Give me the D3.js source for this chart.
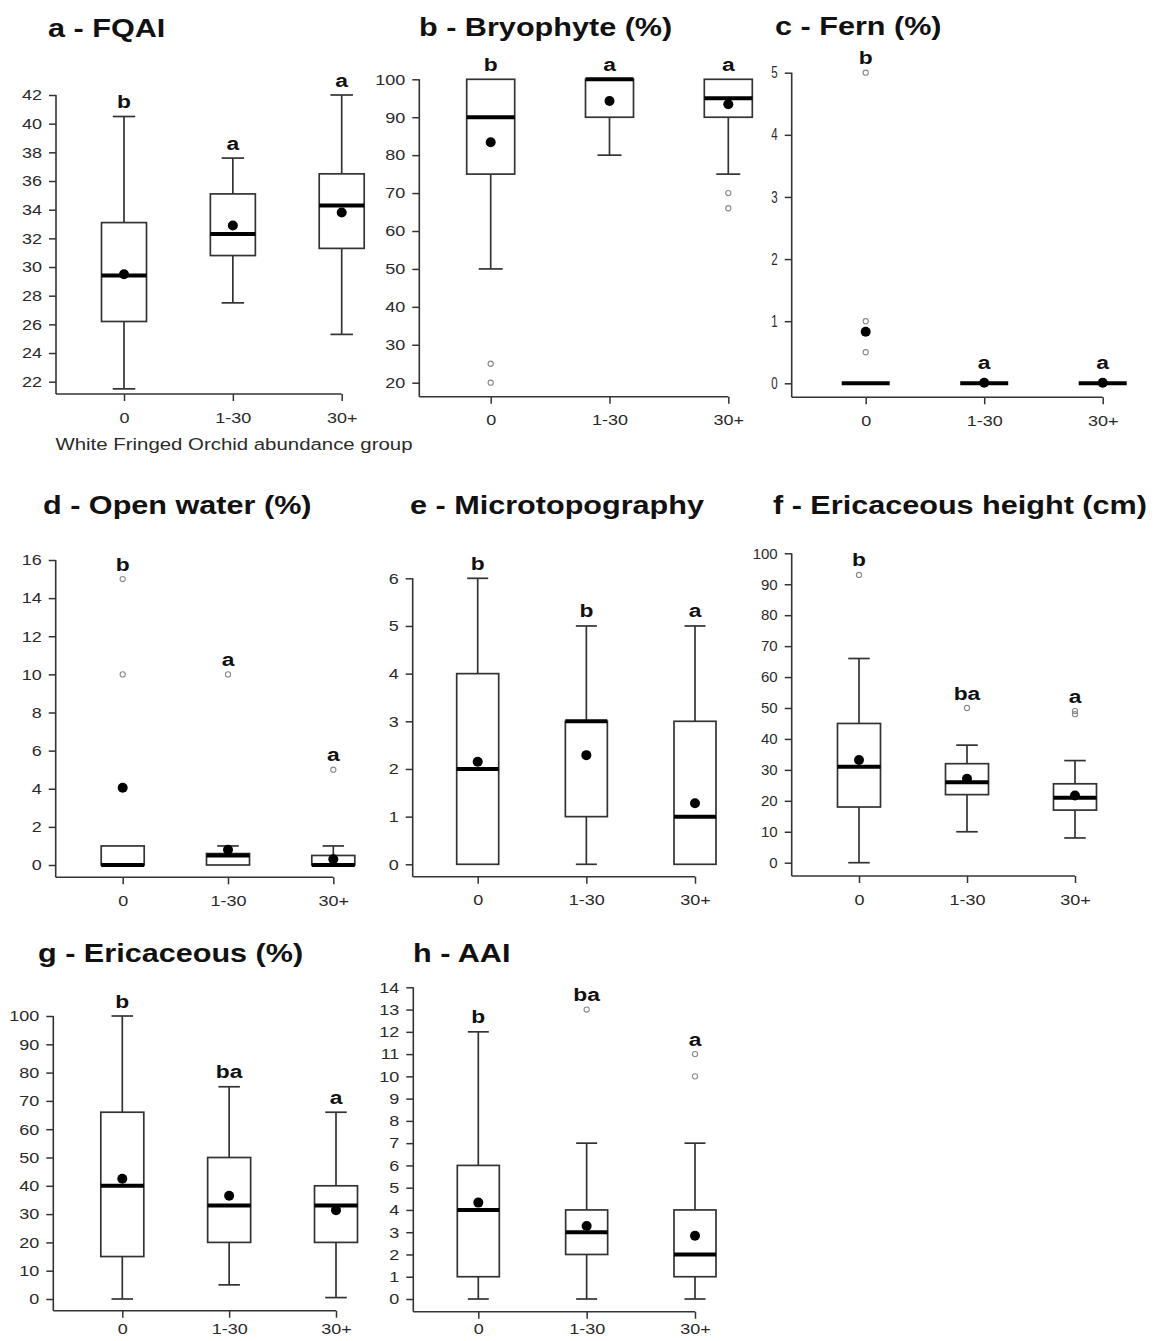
<!DOCTYPE html>
<html>
<head>
<meta charset="utf-8">
<script src="https://cdn.jsdelivr.net/npm/d3@7"></script>
<style>
  html, body { margin: 0; padding: 0; background: #fff; }
  svg { display: block; font-family: "Liberation Sans", Arial, Helvetica, sans-serif; }
</style>
</head>
<body>
<svg id="chart" width="1155" height="1341"></svg>
<script>
// ---------------- DATA ----------------
const groups = ["0", "1-30", "30+"];

// box stats per group: [lower whisker, Q1, median, Q3, upper whisker]
const fqaiBox = [[21.5, 26.2, 29.4, 33.1, 40.5], [27.5, 30.8, 32.3, 35.1, 37.6], [25.3, 31.3, 34.3, 36.5, 42]];
const fqaiMean = [29.5, 32.9, 33.8];
const fqaiOutliers = [[], [], []];
const fqaiLetters = ["b", "a", "a"];
const fqaiTicks = [22, 24, 26, 28, 30, 32, 34, 36, 38, 40, 42];

const bryoBox = [[50, 75, 90, 100, 100], [80, 90, 100, 100, 100], [75, 90, 95, 100, 100]];
const bryoMean = [83.4, 94.3, 93.4];
const bryoOutliers = [[25, 20], [], [70, 66]];
const bryoLetters = ["b", "a", "a"];
const bryoTicks = [20, 30, 40, 50, 60, 70, 80, 90, 100];

const fernBox = [[0, 0, 0, 0, 0], [0, 0, 0, 0, 0], [0, 0, 0, 0, 0]];
const fernMean = [0.83, 0.01, 0.01];
const fernOutliers = [[5, 1, 0.5], [], []];
const fernLetters = ["b", "a", "a"];
const fernTicks = [0, 1, 2, 3, 4, 5];

const waterBox = [[0, 0, 0, 1, 1], [0, 0, 0.5, 0.6, 1], [0, 0, 0, 0.5, 1]];
const waterMean = [4.05, 0.8, 0.3];
const waterOutliers = [[15, 10], [10], [5]];
const waterLetters = ["b", "a", "a"];
const waterTicks = [0, 2, 4, 6, 8, 10, 12, 14, 16];

const microBox = [[0, 0, 2, 4, 6], [0, 1, 3, 3, 5], [0, 0, 1, 3, 5]];
const microMean = [2.15, 2.29, 1.28];
const microOutliers = [[], [], []];
const microLetters = ["b", "b", "a"];
const microTicks = [0, 1, 2, 3, 4, 5, 6];

const heightBox = [[0, 18, 31, 45, 66], [10, 22, 26, 32, 38], [8, 17, 21, 25.5, 33]];
const heightMean = [33.2, 27.1, 21.7];
const heightOutliers = [[93], [50], [49, 48]];
const heightLetters = ["b", "ba", "a"];
const heightTicks = [0, 10, 20, 30, 40, 50, 60, 70, 80, 90, 100];

const ericBox = [[0, 15, 40, 66, 100], [5, 20, 33, 50, 75], [0.5, 20, 33, 40, 66]];
const ericMean = [42.5, 36.5, 31.4];
const ericOutliers = [[], [], []];
const ericLetters = ["b", "ba", "a"];
const ericTicks = [0, 10, 20, 30, 40, 50, 60, 70, 80, 90, 100];

const aaiBox = [[0, 1, 4, 6, 12], [0, 2, 3, 4, 7], [0, 1, 2, 4, 7]];
const aaiMean = [4.33, 3.28, 2.84];
const aaiOutliers = [[], [13], [11, 10]];
const aaiLetters = ["b", "ba", "a"];
const aaiTicks = [0, 1, 2, 3, 4, 5, 6, 7, 8, 9, 10, 11, 12, 13, 14];

const titles = ["a - FQAI", "b - Bryophyte (%)", "c - Fern (%)", "d - Open water (%)",
                "e - Microtopography", "f - Ericaceous height (cm)", "g - Ericaceous (%)", "h - AAI"];
const xAxisTitle = "White Fringed Orchid abundance group";

// ---------------- LAYOUT ----------------
// ax: y-axis x, ay: x-axis y, x0/x2: first/last category, yt/yb: pixel of top/bottom tick
const layouts = [
  {ax: 56,    ay: 394,    x0: 124,   x2: 341.7,  yt: 95,    yb: 381.7,  bw: 45, tx: 48,  ty: 37,  tickSx: 1.2, pad: 11},
  {ax: 419.3, ay: 396.7,  x0: 490.7, x2: 728.3,  yt: 79.3,  yb: 382.7,  bw: 48, tx: 419, ty: 36,  tickSx: 1.2, pad: 11},
  {ax: 791.7, ay: 397.3,  x0: 865.7, x2: 1102.7, yt: 72.7,  yb: 383.3,  bw: 48, tx: 775, ty: 35,  tickSx: 0.72, tickFs: 16, pad: 11},
  {ax: 55.7,  ay: 877.3,  x0: 122.7, x2: 333.3,  yt: 560,   yb: 865,    bw: 43, tx: 43,  ty: 514, tickSx: 1.2, pad: 11},
  {ax: 412.7, ay: 876.7,  x0: 477.7, x2: 695,    yt: 578.3, yb: 864.3,  bw: 42, tx: 410, ty: 514, tickSx: 1.2, pad: 11},
  {ax: 791.7, ay: 876,    x0: 859,   x2: 1075,   yt: 553.3, yb: 862.7,  bw: 43, tx: 773, ty: 514, tickSx: 1.0, pad: 11},
  {ax: 53.3,  ay: 1310.7, x0: 122.3, x2: 336,    yt: 1016,  yb: 1299,   bw: 43, tx: 38,  ty: 962, tickSx: 1.2, pad: 6},
  {ax: 413.3, ay: 1311.7, x0: 478.3, x2: 695,    yt: 987.3, yb: 1299,   bw: 42, tx: 413, ty: 962, tickSx: 1.2, pad: 5}
];

const panels = [
  {box: fqaiBox,   mean: fqaiMean,   out: fqaiOutliers,   letters: fqaiLetters,   ticks: fqaiTicks},
  {box: bryoBox,   mean: bryoMean,   out: bryoOutliers,   letters: bryoLetters,   ticks: bryoTicks},
  {box: fernBox,   mean: fernMean,   out: fernOutliers,   letters: fernLetters,   ticks: fernTicks},
  {box: waterBox,  mean: waterMean,  out: waterOutliers,  letters: waterLetters,  ticks: waterTicks},
  {box: microBox,  mean: microMean,  out: microOutliers,  letters: microLetters,  ticks: microTicks},
  {box: heightBox, mean: heightMean, out: heightOutliers, letters: heightLetters, ticks: heightTicks},
  {box: ericBox,   mean: ericMean,   out: ericOutliers,   letters: ericLetters,   ticks: ericTicks},
  {box: aaiBox,    mean: aaiMean,    out: aaiOutliers,    letters: aaiLetters,    ticks: aaiTicks}
];

// ---------------- STYLE ----------------
const SX = 1.2;           // horizontal text stretch of the source figure
const lineCol = "#333";
const tickLen = 7;

const svg = d3.select("#chart");

panels.forEach((p, i) => {
  const L = layouts[i];
  const g = svg.append("g");
  const x = d3.scalePoint().domain(groups).range([L.x0, L.x2]);
  const y = d3.scaleLinear().domain([d3.min(p.ticks), d3.max(p.ticks)]).range([L.yb, L.yt]);

  // title
  g.append("text")
    .attr("transform", `translate(${L.tx},${L.ty}) scale(${SX},1)`)
    .attr("font-size", 25.5).attr("font-weight", "bold").attr("fill", "#111")
    .text(titles[i]);

  // y axis
  const tsx = L.tickSx;
  const yAx = g.append("g").attr("transform", `translate(${L.ax},0)`)
    .call(d3.axisLeft(y).tickValues(p.ticks).tickSize(tickLen).tickFormat(d3.format("d")));
  yAx.select(".domain").remove();
  yAx.selectAll(".tick line").attr("stroke", lineCol).attr("stroke-width", 1.5);
  yAx.selectAll(".tick text")
    .attr("font-size", L.tickFs || 15).attr("fill", "#2a2a2a")
    .attr("x", -(tickLen + 7) / tsx)
    .attr("transform", `scale(${tsx},1)`);
  yAx.attr("font-family", null);

  // x axis
  const xAx = g.append("g").attr("transform", `translate(0,${L.ay})`)
    .call(d3.axisBottom(x).tickSize(tickLen).tickPadding(L.pad));
  xAx.select(".domain").remove();
  xAx.selectAll(".tick line").attr("stroke", lineCol).attr("stroke-width", 1.5);
  xAx.selectAll(".tick text")
    .attr("font-size", 15).attr("fill", "#2a2a2a")
    .attr("transform", `scale(${SX},1)`);
  xAx.attr("font-family", null);

  // L-shaped axis lines
  g.append("line").attr("x1", L.ax).attr("x2", L.ax).attr("y1", y(d3.max(p.ticks))).attr("y2", L.ay)
    .attr("stroke", lineCol).attr("stroke-width", 1.6);
  g.append("line").attr("x1", L.ax).attr("x2", x(groups[groups.length - 1])).attr("y1", L.ay).attr("y2", L.ay)
    .attr("stroke", lineCol).attr("stroke-width", 1.6);

  // boxes
  groups.forEach((grp, k) => {
    const cx = x(grp);
    const [lo, q1, med, q3, hi] = p.box[k];
    const bw = L.bw, cap = bw / 2;
    const bg = g.append("g");
    if (hi > q3) {
      bg.append("line").attr("x1", cx).attr("x2", cx).attr("y1", y(q3)).attr("y2", y(hi))
        .attr("stroke", lineCol).attr("stroke-width", 1.7);
      bg.append("line").attr("x1", cx - cap / 2).attr("x2", cx + cap / 2).attr("y1", y(hi)).attr("y2", y(hi))
        .attr("stroke", lineCol).attr("stroke-width", 1.7);
    }
    if (lo < q1) {
      bg.append("line").attr("x1", cx).attr("x2", cx).attr("y1", y(q1)).attr("y2", y(lo))
        .attr("stroke", lineCol).attr("stroke-width", 1.7);
      bg.append("line").attr("x1", cx - cap / 2).attr("x2", cx + cap / 2).attr("y1", y(lo)).attr("y2", y(lo))
        .attr("stroke", lineCol).attr("stroke-width", 1.7);
    }
    if (q3 > q1) {
      bg.append("rect").attr("x", cx - bw / 2).attr("y", y(q3)).attr("width", bw).attr("height", y(q1) - y(q3))
        .attr("fill", "#fff").attr("stroke", lineCol).attr("stroke-width", 1.7);
    }
    bg.append("line").attr("x1", cx - bw / 2).attr("x2", cx + bw / 2).attr("y1", y(med)).attr("y2", y(med))
      .attr("stroke", "#000").attr("stroke-width", 4);
    bg.append("circle").attr("cx", cx).attr("cy", y(p.mean[k])).attr("r", 5).attr("fill", "#000");
    p.out[k].forEach(v => {
      bg.append("circle").attr("cx", cx).attr("cy", y(v)).attr("r", 2.6)
        .attr("fill", "none").attr("stroke", "#8a8a8a").attr("stroke-width", 1.1);
    });
    // significance letter
    const topVal = d3.max([hi, q3].concat(p.out[k]));
    const topY = Math.min(y(topVal), y(p.mean[k]) - 5);
    bg.append("text")
      .attr("transform", `translate(${cx},${topY - 8.5}) scale(${SX},1)`)
      .attr("text-anchor", "middle").attr("font-size", 19).attr("font-weight", "bold").attr("fill", "#111")
      .text(p.letters[k]);
  });

  if (i === 0) {
    g.append("text")
      .attr("transform", `translate(${(L.ax + 412) / 2},450) scale(${SX},1)`)
      .attr("text-anchor", "middle").attr("font-size", 17).attr("fill", "#2a2a2a")
      .text(xAxisTitle);
  }
});
</script>
</body>
</html>
